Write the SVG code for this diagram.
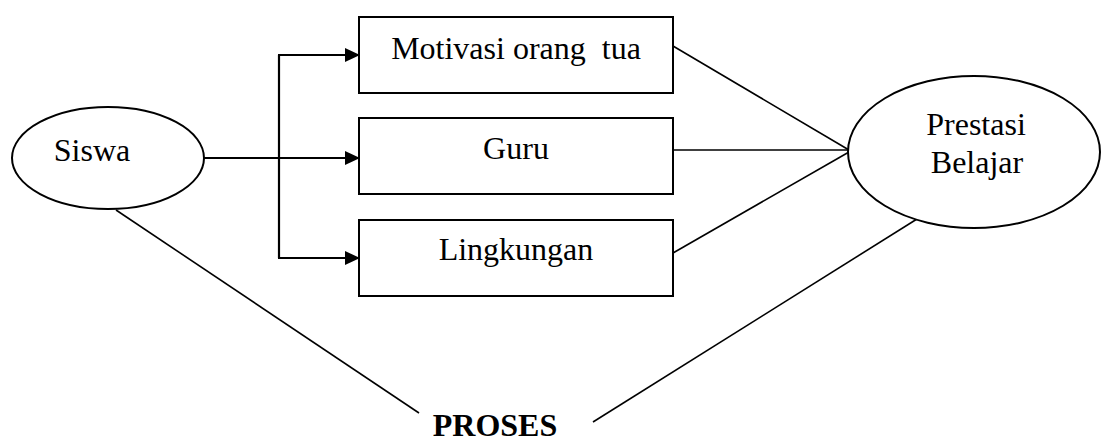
<svg xmlns="http://www.w3.org/2000/svg" width="1103" height="441" viewBox="0 0 1103 441">
<defs>
<marker id="arr" markerWidth="15" markerHeight="14" refX="15" refY="7" orient="auto" markerUnits="userSpaceOnUse"><polygon points="0,0 15,7 0,14" fill="#000"/></marker>
</defs>
<style>
text{font-family:"Liberation Serif","Times New Roman",serif;font-size:32px;fill:#000}
.shape{fill:#fff;stroke:#000;stroke-width:2}
.ln{fill:none;stroke:#000;stroke-width:1.6}
.ar{fill:none;stroke:#000;stroke-width:2.2}
</style>
<rect width="1103" height="441" fill="#fff"/>
<g id="connectors">
<line class="ar" x1="203" y1="158" x2="360" y2="158" marker-end="url(#arr)"/>
<polyline class="ar" points="279,55 279,258"/>
<line class="ar" x1="278" y1="55" x2="360" y2="55" marker-end="url(#arr)"/>
<line class="ar" x1="278" y1="258" x2="360" y2="258" marker-end="url(#arr)"/>
<line class="ln" x1="673" y1="46" x2="849" y2="150"/>
<line class="ln" x1="673" y1="150" x2="849" y2="150"/>
<line class="ln" x1="673" y1="253" x2="849" y2="152"/>
<line class="ln" x1="116" y1="210" x2="419" y2="413"/>
<line class="ln" x1="917" y1="219" x2="593" y2="422"/>
</g>
<g id="siswa">
<ellipse class="shape" cx="108" cy="158" rx="96" ry="51"/>
<text x="92" y="161" text-anchor="middle">Siswa</text>
</g>
<g id="motivasi">
<rect class="shape" x="359" y="17" width="314" height="76"/>
<text x="516" y="59" text-anchor="middle" xml:space="preserve">Motivasi orang  tua</text>
</g>
<g id="guru">
<rect class="shape" x="359" y="118" width="314" height="76"/>
<text x="516" y="159" text-anchor="middle">Guru</text>
</g>
<g id="lingkungan">
<rect class="shape" x="359" y="220" width="314" height="76"/>
<text x="516" y="260" text-anchor="middle">Lingkungan</text>
</g>
<g id="prestasi">
<ellipse class="shape" cx="974" cy="152" rx="126" ry="76"/>
<text x="976" y="135" text-anchor="middle">Prestasi</text>
<text x="977" y="173" text-anchor="middle">Belajar</text>
</g>
<g id="proses">
<text x="495" y="436" text-anchor="middle" font-weight="bold">PROSES</text>
</g>
</svg>
